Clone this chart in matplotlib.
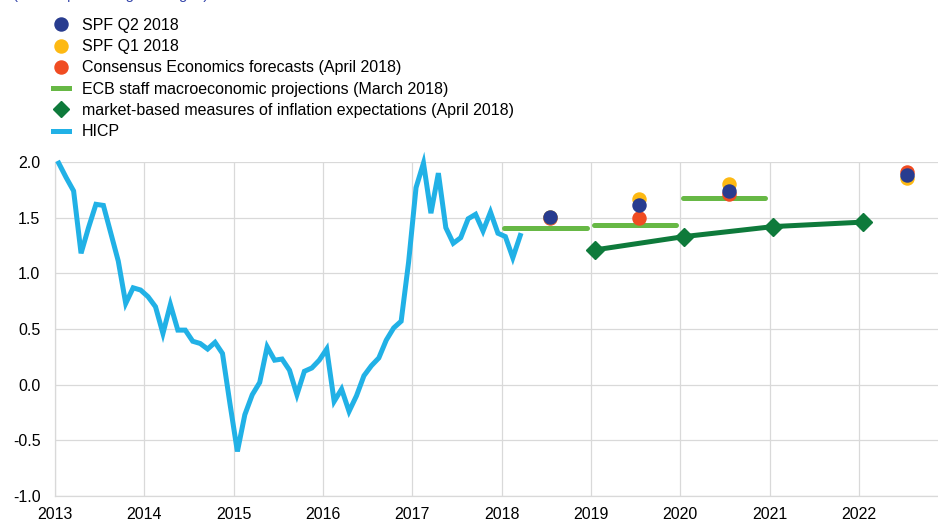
import numpy as np
import matplotlib
matplotlib.use("Agg")
import matplotlib.pyplot as plt
from matplotlib.lines import Line2D
from matplotlib.ticker import FormatStrFormatter

plt.rcParams['font.family'] = ['Liberation Sans', 'DejaVu Sans']
plt.rcParams['axes.unicode_minus'] = False

# HICP, monthly, Jan 2013 - Mar 2018 (annual % change)
hicp = [1.99, 1.86, 1.74, 1.18, 1.41, 1.62, 1.61, 1.36, 1.11, 0.73, 0.87, 0.85,
        0.79, 0.70, 0.46, 0.72, 0.49, 0.49, 0.39, 0.37, 0.32, 0.38, 0.28, -0.17,
        -0.60, -0.27, -0.09, 0.02, 0.34, 0.22, 0.23, 0.13, -0.09, 0.12, 0.15, 0.22,
        0.32, -0.15, -0.04, -0.24, -0.10, 0.08, 0.17, 0.24, 0.40, 0.51, 0.57, 1.10,
        1.77, 1.99, 1.54, 1.90, 1.41, 1.27, 1.32, 1.49, 1.53, 1.38, 1.55, 1.36,
        1.33, 1.14, 1.34]
hicp_start = 2013

# survey forecasts, plotted mid-year (July)
survey_years = [2018, 2019, 2020, 2022]
consensus = [1.50, 1.50, 1.71, 1.91]
spf_q1 = [1.51, 1.67, 1.80, 1.86]
spf_q2 = [1.51, 1.61, 1.74, 1.88]

# ECB staff projections (annual averages)
ecb_years = [2018, 2019, 2020]
ecb_proj = [1.41, 1.43, 1.68]

# market-based inflation expectations, plotted in January
market_years = [2019, 2020, 2021, 2022]
market = [1.21, 1.33, 1.42, 1.46]

c_navy = '#283c8f'
c_yellow = '#fdb913'
c_red = '#f04c22'
c_green = '#67b845'
c_dgreen = '#0e7a3b'
c_blue = '#21b1e6'
c_grid = '#d9d9d9'

W, H = 938, 521
fig = plt.figure(figsize=(W / 100, H / 100), dpi=100)
px_per_year = 89.33
ax = fig.add_axes([55 / W, 25 / H, 883 / W, 334 / H])

# HICP line, mid-month positions
hicp_x = hicp_start + (np.arange(len(hicp)) + 0.5) / 12
ax.plot(hicp_x, hicp, color=c_blue, lw=3.6, solid_joinstyle='miter', clip_on=False, zorder=3)

# ECB projections as horizontal bars over each year
for yr, v in zip(ecb_years, ecb_proj):
    ax.plot([yr + 0.03, yr + 0.95], [v, v], color=c_green, lw=3.6,
            solid_capstyle='round', zorder=3)

# market-based measures
mx = np.array(market_years) + 0.5 / 12
ax.plot(mx, market, color=c_dgreen, lw=3.6, marker='D', ms=8.7, zorder=4)

# surveys (red first, navy on top)
sx = np.array(survey_years) + 6.5 / 12
ax.plot(sx, consensus, 'o', color=c_red, ms=9.4, zorder=5)
ax.plot(sx, spf_q1, 'o', color=c_yellow, ms=9.4, zorder=6)
ax.plot(sx, spf_q2, 'o', color=c_navy, ms=9.4, zorder=7)

ax.set_xlim(2013, 2013 + 883 / px_per_year)
ax.set_ylim(-1, 2)
ax.set_xticks(range(2013, 2023))
ax.set_yticks(np.arange(-1, 2.01, 0.5))
ax.yaxis.set_major_formatter(FormatStrFormatter('%.1f'))
ax.grid(True, color=c_grid, lw=0.9)
ax.set_axisbelow(True)
for s in ['top', 'right']:
    ax.spines[s].set_visible(False)
for s in ['left', 'bottom']:
    ax.spines[s].set_color(c_grid)
    ax.spines[s].set_linewidth(0.9)
ax.tick_params(axis='both', length=0, labelsize=11.5, colors='black')
ax.tick_params(axis='y', pad=10.5)
ax.tick_params(axis='x', pad=8)

handles = [
    Line2D([], [], ls='none', marker='o', color=c_navy, ms=9.4),
    Line2D([], [], ls='none', marker='o', color=c_yellow, ms=9.4),
    Line2D([], [], ls='none', marker='o', color=c_red, ms=9.4),
    Line2D([], [], color=c_green, lw=3.6),
    Line2D([], [], ls='none', marker='D', color=c_dgreen, ms=8.2),
    Line2D([], [], color=c_blue, lw=3.6),
]
labels = ['SPF Q2 2018', 'SPF Q1 2018', 'Consensus Economics forecasts (April 2018)',
          'ECB staff macroeconomic projections (March 2018)',
          'market-based measures of inflation expectations (April 2018)', 'HICP']
fig.legend(handles, labels, loc='upper left', bbox_to_anchor=(53 / W, 1 - 18 / H),
           frameon=False, fontsize=11.5, handlelength=1.0, handletextpad=0.8,
           labelspacing=0.39, borderpad=0, borderaxespad=0)

# subtitle, cut off by the top edge as in the source
fig.text(13 / W, 1 + 1.5 / H, '(annual percentage changes)', color='#3344aa',
         fontsize=10.8, va='baseline', ha='left')

fig.savefig('out.png', dpi=100)
